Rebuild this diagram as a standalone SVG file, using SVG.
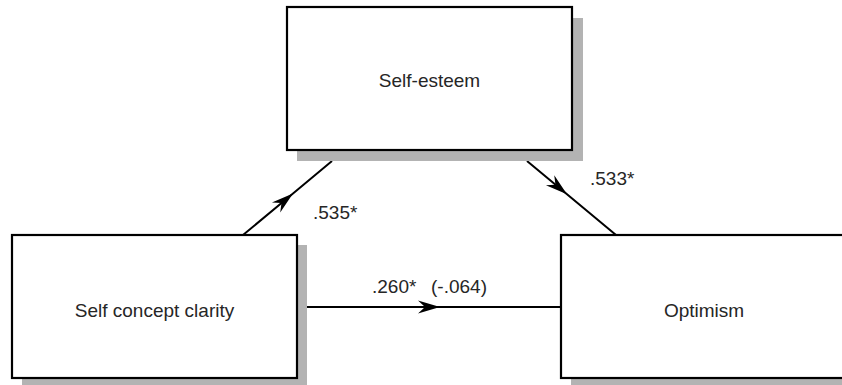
<svg xmlns="http://www.w3.org/2000/svg" width="842" height="385" viewBox="0 0 842 385">
  <style>
    .shadow { fill: #b3b3b3; stroke: none; }
    .box { fill: #ffffff; stroke: #000000; stroke-width: 2.2; }
    .label { font-family: "Liberation Sans", Arial, sans-serif; font-size: 19px; fill: #262626; }
    .coef { font-family: "Liberation Sans", Arial, sans-serif; font-size: 19px; fill: #262626; }
    .conn { fill: none; stroke: #000000; stroke-width: 2; }
  </style>
  <defs>
    <marker id="arrow" viewBox="-24 -8 26 16" refX="0" refY="0" markerWidth="26" markerHeight="16" markerUnits="userSpaceOnUse" orient="auto">
      <path d="M0,0 L-22,-6.5 L-15,0 L-22,6.5 Z" fill="#000000"/>
    </marker>
  </defs>

  <rect width="842" height="385" fill="#ffffff"/>

  <g id="connectors">
    <polyline class="conn" points="243,235 293,193.4 332,161" marker-mid="url(#arrow)"/>
    <polyline class="conn" points="527,161 567,194.3 616,235" marker-mid="url(#arrow)"/>
    <polyline class="conn" points="307,307 440,307 561,307" marker-mid="url(#arrow)"/>
    <text class="coef" x="313" y="219">.535*</text>
    <text class="coef" x="590" y="185">.533*</text>
    <text class="coef" x="372" y="293">.260*</text>
    <text class="coef" x="431" y="293">(-.064)</text>
  </g>

  <g id="self-esteem">
    <rect class="shadow" x="297" y="18" width="286" height="143"/>
    <rect class="box" x="287" y="7" width="285" height="143"/>
    <text class="label" x="429.5" y="87" text-anchor="middle">Self-esteem</text>
  </g>

  <g id="self-concept-clarity">
    <rect class="shadow" x="22" y="245" width="285" height="145"/>
    <rect class="box" x="12" y="235" width="285" height="143"/>
    <text class="label" x="154.5" y="317" text-anchor="middle">Self concept clarity</text>
  </g>

  <g id="optimism">
    <rect class="shadow" x="571" y="245" width="300" height="145"/>
    <rect class="box" x="561" y="235" width="300" height="143"/>
    <text class="label" x="704" y="317" text-anchor="middle">Optimism</text>
  </g>
</svg>
